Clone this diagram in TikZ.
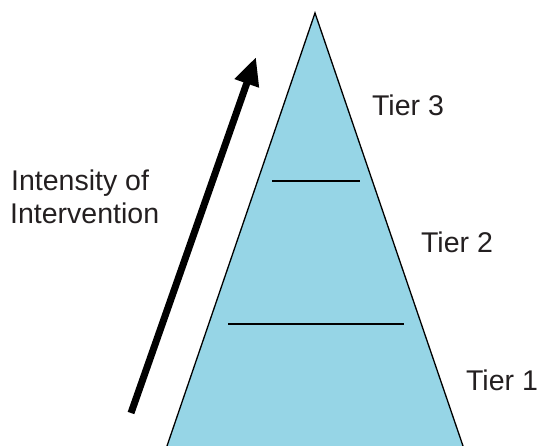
\documentclass[tikz,border=0pt]{standalone}
\usepackage{fontspec}
\setmainfont{Liberation Sans}
\usetikzlibrary{arrows.meta}
\definecolor{pyr}{RGB}{150,213,230}
\definecolor{txt}{RGB}{35,31,32}
\tikzset{
  lbl/.style={font=\fontsize{28.5}{32}\selectfont, text=txt, inner sep=0pt, anchor=base},
  tierline/.style={line width=1.3pt},
}
\begin{document}
\begin{tikzpicture}[x=1pt,y=-1pt]
\useasboundingbox (0,0) rectangle (540,446);
\coordinate (apex) at (315,13);
\coordinate (bl) at (167,446);
\coordinate (br) at (463,446);
\fill[pyr] (bl) -- (apex) -- (br) -- cycle;
\draw[line width=1.3pt] (bl) -- (apex) -- (br);
\coordinate (l1a) at (272,181);
\coordinate (l1b) at (360,181);
\coordinate (l2a) at (228,324);
\coordinate (l2b) at (404,324);
\draw[tierline] (l1a) -- (l1b);
\draw[tierline] (l2a) -- (l2b);
\coordinate (atail) at (131,413);
\coordinate (atip) at (256,57);
\draw[line width=7pt, -{Triangle[length=28pt,width=24pt]}] (atail) -- (atip);
\node[lbl] (t3) at (408,116) {Tier 3};
\node[lbl] (t2) at (457,252) {Tier 2};
\node[lbl] (t1) at (502,390) {Tier 1};
\node[lbl, anchor=base west] (ioi1) at (11,191) {Intensity of};
\node[lbl, anchor=base west] (ioi2) at (10,223) {Intervention};
\end{tikzpicture}
\end{document}
